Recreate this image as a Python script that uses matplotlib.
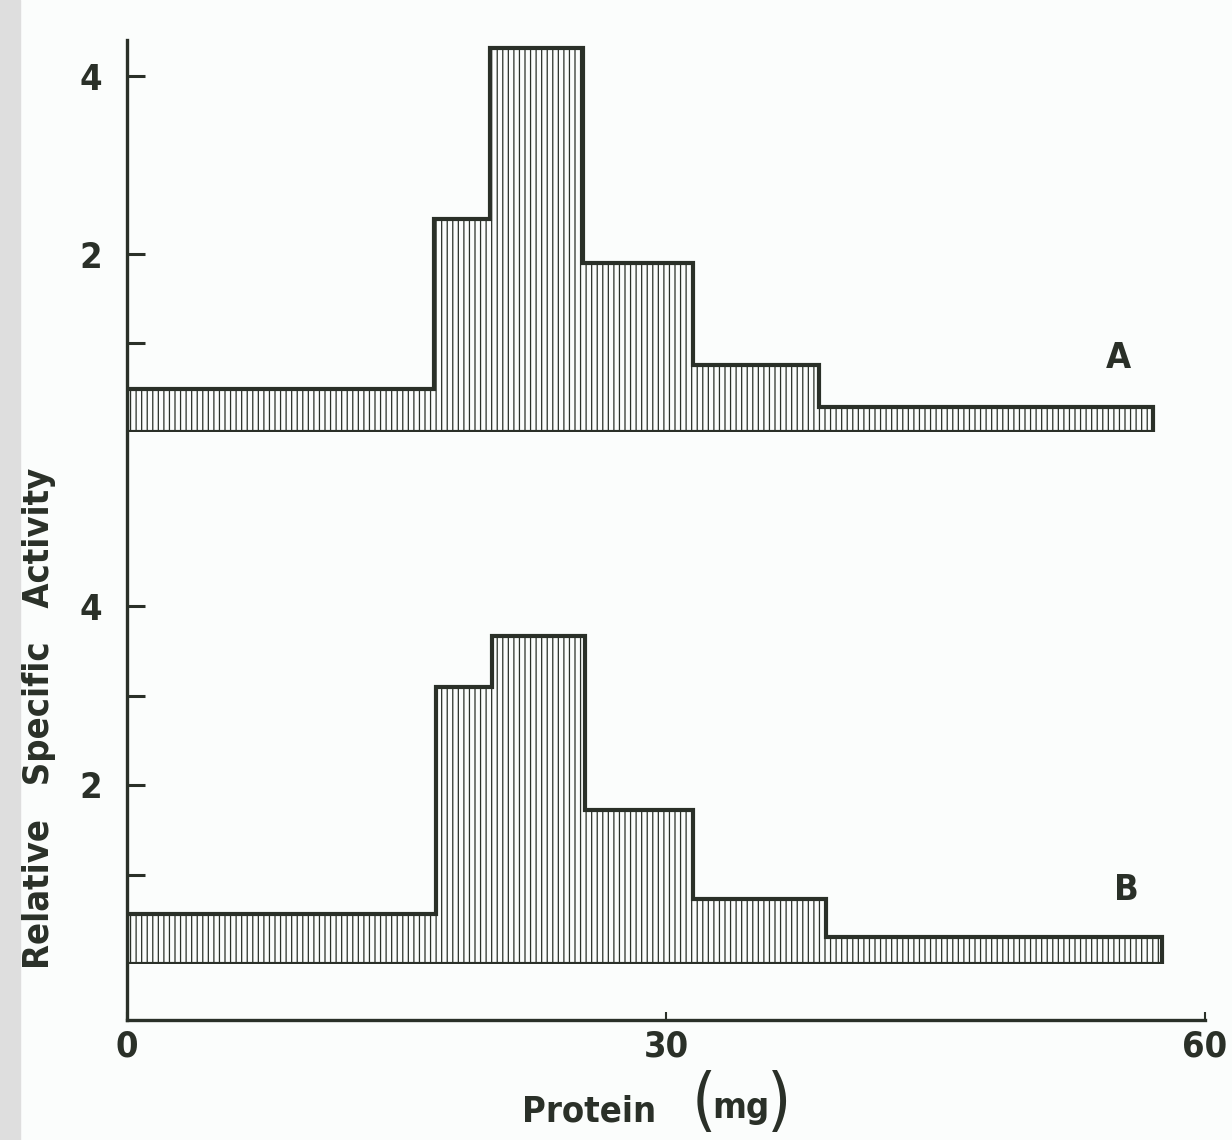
import matplotlib
matplotlib.use("Agg")
import matplotlib.pyplot as plt
from matplotlib.patches import Rectangle

# step edges (mg protein) and relative specific activity
edges_a = [0, 17.1, 20.2, 25.4, 31.5, 38.5, 57.1]
vals_a = [0.48, 2.39, 4.31, 1.90, 0.75, 0.28]
edges_b = [0, 17.2, 20.3, 25.5, 31.5, 38.9, 57.6]
vals_b = [0.56, 3.09, 3.66, 1.72, 0.73, 0.30]

x_ticks = [0, 30, 60]
yticks_a = [1, 2, 4]
ylabels_a = ["", "2", "4"]
yticks_b = [1, 2, 3, 4]
ylabels_b = ["", "2", "", "4"]

ink = "#2a3028"
paper = "#fbfdfc"
plt.rcParams["font.family"] = ["DejaVu Sans"]
plt.rcParams["font.stretch"] = "condensed"
plt.rcParams["font.weight"] = "bold"
plt.rcParams["hatch.linewidth"] = 0.9
plt.rcParams["hatch.color"] = ink

W, H = 1232, 1140
fig = plt.figure(figsize=(W / 100, H / 100), dpi=100, facecolor=paper)
fig.patches.append(Rectangle((0, 0), 20 / W, 1, transform=fig.transFigure,
                             color="#dedede", zorder=0))

def frac(px_left, px_top, px_right, px_bottom):
    return [px_left / W, 1 - px_bottom / H, (px_right - px_left) / W, (px_bottom - px_top) / H]

# frame: long y axis line and the x axis
frame = fig.add_axes(frac(127, 40, 1205, 1020))
frame.set_facecolor("none")
frame.set_xlim(0, 60)
frame.set_ylim(0, 1)
for s in ["top", "right"]:
    frame.spines[s].set_visible(False)
for s in ["left", "bottom"]:
    frame.spines[s].set_linewidth(2.4)
    frame.spines[s].set_color(ink)
frame.set_yticks([])
frame.set_xticks(x_ticks)
frame.set_xticklabels([str(v) for v in x_ticks])
frame.tick_params(axis="x", direction="in", length=6, width=1.5, color=ink,
                  labelsize=26, labelcolor=ink, pad=7)

def panel(box, edges, vals, yt, yl, tag, tag_xy):
    ax = fig.add_axes(box)
    ax.set_facecolor("none")
    ax.set_xlim(0, 60)
    ax.set_ylim(0, 4.5)
    for s in ax.spines.values():
        s.set_visible(False)
    ax.stairs(vals, edges, baseline=0, fill=True, facecolor="none",
              edgecolor=ink, hatch="|||", linewidth=0)
    ax.stairs(vals, edges, baseline=0, fill=False, color=ink, linewidth=3)
    ax.hlines(0, edges[0], edges[-1], color=ink, linewidth=3)
    ax.set_xticks([])
    ax.set_yticks(yt)
    ax.set_yticklabels(yl)
    ax.tick_params(axis="y", direction="in", length=13, width=2.2, color=ink,
                   labelsize=26, labelcolor=ink, pad=18)
    ax.text(tag_xy[0], tag_xy[1], tag, fontsize=26, color=ink, ha="center", va="center")
    return ax

# 1 unit of activity ~ 89 px, baseline A at y=432, baseline B at y=964
axA = panel(frac(127, 432 - 4.5 * 89, 1205, 432), edges_a, vals_a,
            yticks_a, ylabels_a, "A", (55.2, 0.83))
axB = panel(frac(127, 964 - 4.5 * 89.5, 1205, 964), edges_b, vals_b,
            yticks_b, ylabels_b, "B", (55.6, 0.83))

fig.text(39 / W, 1 - 718 / H, "Relative   Specific   Activity", rotation=90,
         fontsize=26, color=ink, ha="center", va="center")
fig.text(589 / W, 1 - 1111 / H, "Protein", fontsize=26, color=ink, ha="center", va="center")
fig.text(704 / W, 1 - 1104 / H, "(", fontsize=50, color=ink, ha="center", va="center",
         fontweight="light", fontstretch="ultra-condensed")
fig.text(741 / W, 1 - 1108 / H, "mg", fontsize=26, color=ink, ha="center", va="center")
fig.text(779 / W, 1 - 1104 / H, ")", fontsize=50, color=ink, ha="center", va="center",
         fontweight="light", fontstretch="ultra-condensed")

fig.savefig("out.png", dpi=100, facecolor=paper)
